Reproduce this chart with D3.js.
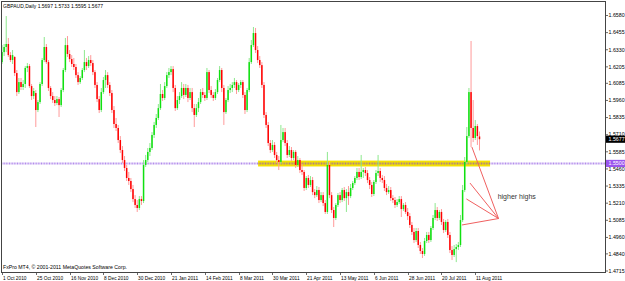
<!DOCTYPE html>
<html>
<head>
<meta charset="utf-8">
<script src="https://cdn.jsdelivr.net/npm/d3@7"></script>
<style>
body{margin:0;background:#fff}
svg{display:block}
text{font-family:"Liberation Sans",Arial,sans-serif}
</style>
</head>
<body>
<svg id="chart" width="625" height="281"></svg>
<script>
// GBPAUD daily bars, 1 Oct 2010 -> 15 Aug 2011
var open = [
1.6240,1.6313,1.6350,1.6372,1.6291,1.6255,1.6277,1.6160,1.6021,1.6094,
1.6058,1.6080,1.6197,1.6211,1.6065,1.5992,1.6014,1.5890,1.5948,1.6080,
1.6255,1.6350,1.6240,1.6051,1.5992,1.5963,1.5941,1.5970,1.5926,1.6036,
1.6182,1.6364,1.6299,1.6262,1.6226,1.6204,1.6145,1.6094,1.6124,1.6182,
1.6240,1.6211,1.6255,1.6233,1.6167,1.6073,1.5970,1.5890,1.6021,1.6109,
1.6145,1.6073,1.6014,1.5890,1.5788,1.5759,1.5671,1.5598,1.5525,1.5467,
1.5394,1.5372,1.5313,1.5240,1.5197,1.5175,1.5240,1.5226,1.5489,1.5525,
1.5584,1.5613,1.5708,1.5781,1.5832,1.5904,1.6007,1.5978,1.6065,1.6145,
1.6167,1.6189,1.6051,1.5904,1.5963,1.5992,1.6051,1.6000,1.6051,1.5978,
1.6021,1.5904,1.5854,1.5904,1.5948,1.6021,1.6000,1.5978,1.6167,1.6036,
1.6000,1.5978,1.6021,1.6109,1.6182,1.6051,1.5875,1.5963,1.6036,1.6051,
1.6073,1.6094,1.6036,1.6073,1.6094,1.6000,1.5890,1.6036,1.6240,1.6364,
1.6452,1.6328,1.6255,1.6218,1.6073,1.5854,1.5781,1.5649,1.5598,1.5635,
1.5562,1.5525,1.5511,1.5671,1.5729,1.5649,1.5562,1.5598,1.5540,1.5584,
1.5489,1.5525,1.5452,1.5438,1.5321,1.5394,1.5343,1.5379,1.5291,1.5269,
1.5306,1.5233,1.5269,1.5211,1.5146,1.5489,1.5269,1.5160,1.5102,1.5197,
1.5269,1.5233,1.5306,1.5247,1.5291,1.5262,1.5321,1.5357,1.5394,1.5438,
1.5401,1.5438,1.5452,1.5430,1.5379,1.5343,1.5277,1.5365,1.5430,1.5445,
1.5394,1.5379,1.5321,1.5291,1.5306,1.5247,1.5233,1.5197,1.5218,1.5240,
1.5167,1.5197,1.5146,1.5116,1.5051,1.5000,1.4941,1.5007,1.4905,1.4861,
1.4839,1.4934,1.4978,1.4941,1.5029,1.5102,1.5160,1.5102,1.5146,1.5073,
1.5014,1.5073,1.4978,1.4868,1.4832,1.4875,1.4890,1.4905,1.5087,1.5306,
1.5511,1.5700,1.6021,1.5759,1.5686,1.5773,1.5697
];
var high = [
1.6364,1.6372,1.6576,1.6416,1.6313,1.6328,1.6284,1.6182,1.6124,1.6124,
1.6109,1.6211,1.6233,1.6226,1.6080,1.6051,1.6036,1.5963,1.6094,1.6270,
1.6423,1.6372,1.6255,1.6065,1.6021,1.5992,1.5992,1.5985,1.6051,1.6197,
1.6416,1.6430,1.6328,1.6291,1.6270,1.6226,1.6167,1.6138,1.6197,1.6328,
1.6270,1.6284,1.6291,1.6255,1.6182,1.6094,1.5992,1.6051,1.6131,1.6182,
1.6167,1.6094,1.6036,1.5919,1.5832,1.5781,1.5700,1.5627,1.5554,1.5489,
1.5438,1.5394,1.5343,1.5269,1.5233,1.5262,1.5262,1.5525,1.5562,1.5613,
1.5649,1.5729,1.5803,1.5861,1.5934,1.6080,1.6036,1.6094,1.6167,1.6197,
1.6211,1.6211,1.6073,1.5992,1.6021,1.6094,1.6080,1.6080,1.6073,1.6051,
1.6051,1.5934,1.5934,1.5978,1.6043,1.6051,1.6021,1.6197,1.6182,1.6065,
1.6021,1.6043,1.6124,1.6211,1.6197,1.6073,1.5978,1.6065,1.6080,1.6094,
1.6124,1.6109,1.6087,1.6109,1.6109,1.6021,1.6051,1.6270,1.6401,1.6496,
1.6489,1.6357,1.6284,1.6240,1.6094,1.5875,1.5803,1.5671,1.5671,1.5656,
1.5584,1.5554,1.5781,1.5759,1.5759,1.5671,1.5627,1.5620,1.5598,1.5598,
1.5554,1.5540,1.5496,1.5452,1.5408,1.5416,1.5408,1.5401,1.5313,1.5335,
1.5328,1.5291,1.5291,1.5233,1.5584,1.5511,1.5291,1.5182,1.5211,1.5284,
1.5291,1.5321,1.5328,1.5313,1.5335,1.5350,1.5372,1.5408,1.5467,1.5467,
1.5562,1.5467,1.5474,1.5452,1.5401,1.5365,1.5379,1.5452,1.5562,1.5467,
1.5416,1.5408,1.5350,1.5335,1.5328,1.5269,1.5255,1.5240,1.5262,1.5262,
1.5211,1.5218,1.5175,1.5138,1.5073,1.5029,1.5029,1.5029,1.4927,1.4883,
1.4956,1.5000,1.5000,1.5043,1.5124,1.5211,1.5182,1.5160,1.5167,1.5095,
1.5087,1.5095,1.5000,1.4897,1.4905,1.4912,1.4927,1.5124,1.5343,1.5547,
1.5766,1.6051,1.6394,1.5963,1.5817,1.5788,1.5733
];
var low = [
1.6226,1.6284,1.6313,1.6277,1.6240,1.6226,1.6138,1.5992,1.6007,1.6036,
1.6036,1.6051,1.6167,1.6051,1.5963,1.5970,1.5766,1.5875,1.5934,1.6065,
1.6240,1.6226,1.6029,1.5970,1.5941,1.5919,1.5926,1.5839,1.5912,1.6021,
1.6167,1.6277,1.6240,1.6204,1.6182,1.6124,1.6073,1.6080,1.6109,1.6167,
1.6182,1.6197,1.6211,1.6145,1.6051,1.5948,1.5868,1.5875,1.6007,1.6051,
1.6051,1.5992,1.5868,1.5759,1.5737,1.5649,1.5576,1.5503,1.5445,1.5372,
1.5343,1.5291,1.5218,1.5175,1.5146,1.5160,1.5197,1.5211,1.5474,1.5511,
1.5554,1.5598,1.5686,1.5759,1.5817,1.5890,1.5956,1.5963,1.6051,1.6124,
1.6145,1.6021,1.5883,1.5890,1.5934,1.5978,1.5970,1.5985,1.5948,1.5963,
1.5875,1.5766,1.5839,1.5875,1.5934,1.5978,1.5956,1.5963,1.6014,1.5978,
1.5956,1.5963,1.6007,1.6094,1.6021,1.5781,1.5861,1.5948,1.6014,1.6021,
1.6051,1.6007,1.6021,1.6051,1.5978,1.5861,1.5875,1.6021,1.6226,1.6350,
1.6306,1.6233,1.6197,1.6051,1.5832,1.5759,1.5627,1.5576,1.5584,1.5540,
1.5503,1.5452,1.5496,1.5656,1.5627,1.5540,1.5547,1.5518,1.5525,1.5467,
1.5474,1.5430,1.5416,1.5299,1.5306,1.5321,1.5328,1.5269,1.5247,1.5255,
1.5211,1.5218,1.5189,1.5131,1.5131,1.5247,1.5138,1.5036,1.5087,1.5182,
1.5211,1.5218,1.5226,1.5146,1.5197,1.5247,1.5306,1.5343,1.5379,1.5379,
1.5386,1.5394,1.5408,1.5357,1.5313,1.5255,1.5262,1.5350,1.5408,1.5365,
1.5357,1.5299,1.5269,1.5277,1.5226,1.5211,1.5175,1.5182,1.5204,1.5109,
1.5153,1.5131,1.5087,1.5029,1.4978,1.4919,1.4927,1.4883,1.4839,1.4810,
1.4825,1.4919,1.4919,1.4927,1.5014,1.5087,1.5080,1.5087,1.5051,1.4992,
1.5000,1.4956,1.4846,1.4795,1.4817,1.4780,1.4868,1.4890,1.5073,1.5291,
1.5496,1.5686,1.5620,1.5656,1.5671,1.5635,1.5595
];
var close = [
1.6313,1.6350,1.6372,1.6291,1.6255,1.6291,1.6160,1.6021,1.6094,1.6058,
1.6080,1.6197,1.6211,1.6065,1.5992,1.6029,1.5890,1.5948,1.6080,1.6255,
1.6350,1.6240,1.6051,1.5992,1.5963,1.5941,1.5970,1.5926,1.6036,1.6182,
1.6364,1.6299,1.6262,1.6226,1.6204,1.6145,1.6094,1.6124,1.6182,1.6240,
1.6211,1.6255,1.6233,1.6167,1.6073,1.5970,1.5890,1.6021,1.6109,1.6145,
1.6073,1.6014,1.5890,1.5788,1.5759,1.5671,1.5598,1.5525,1.5467,1.5394,
1.5372,1.5313,1.5240,1.5197,1.5175,1.5240,1.5226,1.5489,1.5525,1.5584,
1.5613,1.5708,1.5781,1.5832,1.5904,1.6007,1.5978,1.6065,1.6145,1.6167,
1.6189,1.6051,1.5904,1.5963,1.5992,1.6051,1.6000,1.6051,1.5978,1.6021,
1.5904,1.5854,1.5904,1.5948,1.6021,1.6000,1.5978,1.6167,1.6036,1.6000,
1.5978,1.6021,1.6109,1.6182,1.6051,1.5875,1.5963,1.6036,1.6051,1.6073,
1.6094,1.6036,1.6073,1.6094,1.6000,1.5890,1.6036,1.6240,1.6364,1.6452,
1.6328,1.6255,1.6218,1.6073,1.5854,1.5781,1.5649,1.5598,1.5635,1.5562,
1.5525,1.5511,1.5671,1.5729,1.5649,1.5562,1.5598,1.5540,1.5584,1.5489,
1.5525,1.5452,1.5438,1.5321,1.5394,1.5343,1.5379,1.5291,1.5269,1.5306,
1.5233,1.5269,1.5211,1.5146,1.5489,1.5269,1.5160,1.5102,1.5197,1.5269,
1.5233,1.5306,1.5247,1.5291,1.5262,1.5321,1.5357,1.5394,1.5438,1.5401,
1.5438,1.5452,1.5430,1.5379,1.5343,1.5277,1.5365,1.5430,1.5445,1.5394,
1.5379,1.5321,1.5291,1.5306,1.5247,1.5233,1.5197,1.5218,1.5240,1.5167,
1.5197,1.5146,1.5116,1.5051,1.5000,1.4941,1.5007,1.4905,1.4861,1.4839,
1.4934,1.4978,1.4941,1.5029,1.5102,1.5160,1.5102,1.5146,1.5073,1.5014,
1.5073,1.4978,1.4868,1.4832,1.4875,1.4890,1.4905,1.5087,1.5306,1.5511,
1.5700,1.6021,1.5759,1.5686,1.5773,1.5700,1.5677
];

// time axis labels and the bar each one sits on
var dateLabels = ["1 Oct 2010","25 Oct 2010","16 Nov 2010","8 Dec 2010","30 Dec 2010","21 Jan 2011","14 Feb 2011","8 Mar 2011","30 Mar 2011","21 Apr 2011","13 May 2011","6 Jun 2011","28 Jun 2011","20 Jul 2011","11 Aug 2011"];
var dateBars = [0,16,32,48,64,80,96,112,128,144,160,176,192,208,224];

// price scale labels
var priceLabels = ["1.6580","1.6455","1.6330","1.6205","1.6085","1.5960","1.5835","1.5710","1.5585","1.5460","1.5335","1.5210","1.5085","1.4960","1.4840","1.4715"];

var title = "GBPAUD,Daily  1.5697 1.5733 1.5595 1.5677";
var copyright = "FxPro MT4, \u00a9 2001-2011 MetaQuotes Software Corp.";

// drawn objects
var supportLevel = 1.5500;
var zoneBars = [121.2, 231];          // yellow band, bar range
var zonePrices = [1.5478, 1.5521];    // yellow band, price range
var hhStarts = [[222.4,1.5620],[221.5,1.5357],[219.8,1.5241],[217.7,1.5051]];
var hhEnd = [235,1.5098];
var hhText = "higher highs";
var hhTextAt = [234.6,1.5244];
var lastPrice = 1.5677;

(function(){
var svg = d3.select("#chart");
var W = 625, H = 281;
var pl = 1, pr = 605, pt = 1, pb = 272;

var x = d3.scaleLinear().domain([0, 226]).range([2, 479.5]);
var y = d3.scaleLinear().domain([1.4715, 1.6580]).range([271, 15.5]);

svg.append("rect").attr("width", W).attr("height", H).attr("fill", "#fff");

svg.append("defs").append("clipPath").attr("id", "plot")
	.append("rect").attr("x", pl).attr("y", pt).attr("width", pr - pl).attr("height", pb - pt);

var plot = svg.append("g").attr("clip-path", "url(#plot)");

// yellow band
plot.append("rect")
	.attr("x", x(zoneBars[0])).attr("width", x(zoneBars[1]) - x(zoneBars[0]))
	.attr("y", y(zonePrices[1])).attr("height", y(zonePrices[0]) - y(zonePrices[1]))
	.attr("fill", "#f4e200");

// horizontal support line
plot.append("line")
	.attr("x1", pl).attr("x2", pr)
	.attr("y1", y(supportLevel)).attr("y2", y(supportLevel))
	.attr("stroke", "#8040e0").attr("stroke-opacity", 0.6)
	.attr("stroke-width", 2).attr("stroke-dasharray", "1,0.6");

// candles
var bars = d3.range(close.length).map(function(i){
	return {i: i, o: open[i], h: high[i], l: low[i], c: close[i]};
});

plot.selectAll(".wick").data(bars).enter().append("line")
	.attr("x1", function(d){ return x(d.i); })
	.attr("x2", function(d){ return x(d.i); })
	.attr("y1", function(d){ return y(d.h); })
	.attr("y2", function(d){ return y(d.l); })
	.attr("stroke", function(d){ return d.c >= d.o ? "#8ee88e" : "#ff9a9a"; })
	.attr("stroke-width", 1);

plot.selectAll(".body").data(bars).enter().append("rect")
	.attr("x", function(d){ return x(d.i) - 0.75; })
	.attr("width", 1.5)
	.attr("y", function(d){ return y(Math.max(d.o, d.c)); })
	.attr("height", function(d){ return Math.max(0.8, Math.abs(y(d.o) - y(d.c))); })
	.attr("fill", function(d){ return d.c >= d.o ? "#10e010" : "#ff0000"; });

// "higher highs" fan
hhStarts.forEach(function(p){
	plot.append("line")
		.attr("x1", x(p[0])).attr("y1", y(p[1]))
		.attr("x2", x(hhEnd[0])).attr("y2", y(hhEnd[1]))
		.attr("stroke", "#f06060").attr("stroke-width", 1);
});
plot.append("text")
	.attr("x", x(hhTextAt[0])).attr("y", y(hhTextAt[1]))
	.attr("font-size", 7).attr("fill", "#333")
	.text(hhText);

// frame
svg.append("rect")
	.attr("x", pl + 0.5).attr("y", pt + 0.5)
	.attr("width", pr - pl).attr("height", pb - pt)
	.attr("fill", "none").attr("stroke", "#444").attr("stroke-width", 1);

// texts inside chart
svg.append("text").attr("x", 3).attr("y", 8).attr("font-size", 5).attr("fill", "#000").text(title);
svg.append("text").attr("x", 3).attr("y", 268.5).attr("font-size", 5.2).attr("fill", "#000").text(copyright);

// price axis
var pAxis = svg.append("g");
priceLabels.forEach(function(s){
	var py = y(+s);
	pAxis.append("line").attr("x1", pr + 0.5).attr("x2", pr + 3)
		.attr("y1", py).attr("y2", py).attr("stroke", "#444").attr("stroke-width", 0.8);
	pAxis.append("text").attr("x", pr + 3.5).attr("y", py + 1.8)
		.attr("font-size", 5.3).attr("fill", "#000").text(s);
});

// price tags
function tag(price, bg, fg){
	var py = y(price);
	svg.append("rect").attr("x", pr + 1).attr("y", py - 3.6).attr("width", W - pr - 1).attr("height", 7.2).attr("fill", bg);
	svg.append("text").attr("x", pr + 3.5).attr("y", py + 1.9)
		.attr("font-size", 5.3).attr("fill", fg).text(price.toFixed(4));
}
tag(lastPrice, "#000", "#fff");
tag(supportLevel, "#9a55ee", "#fff");

// time axis
var tAxis = svg.append("g");
dateBars.forEach(function(b, k){
	var tx = Math.round(x(b)) + 0.5;
	tAxis.append("line").attr("x1", tx).attr("x2", tx)
		.attr("y1", pb + 0.5).attr("y2", pb + 3).attr("stroke", "#444").attr("stroke-width", 0.8);
	tAxis.append("text").attr("x", tx + 0.5).attr("y", 279.5)
		.attr("font-size", 4.8).attr("fill", "#000").text(dateLabels[k]);
});
})();
</script>
</body>
</html>
